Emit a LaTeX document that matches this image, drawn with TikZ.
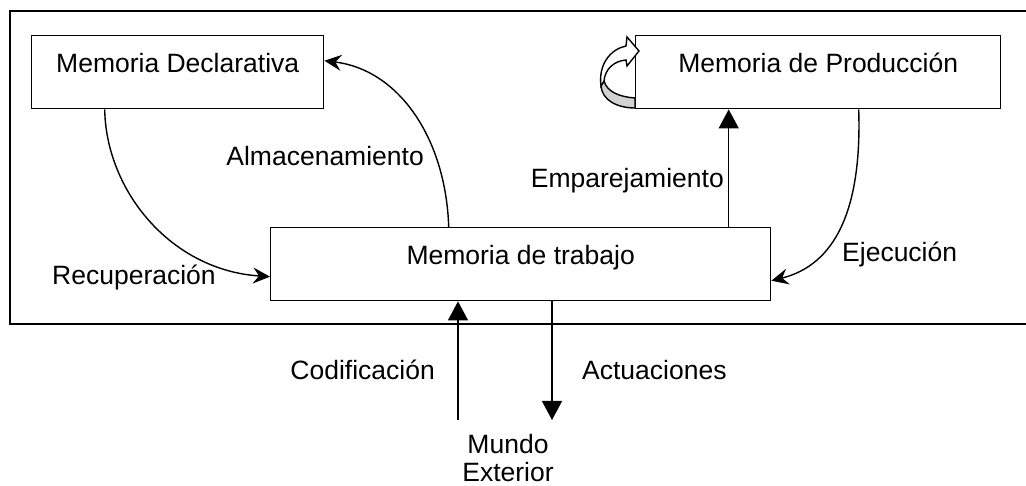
\documentclass[tikz,border=0pt]{standalone}
\usepackage{fontspec}
\setmainfont{Liberation Sans}
\usetikzlibrary{arrows.meta}
\begin{document}
\begin{tikzpicture}[x=1pt,y=-1pt,
  every node/.style={font=\fontsize{26.5}{28}\selectfont, inner sep=0pt},
  membox/.style={draw, line width=1.4pt, text height=37pt, text depth=36pt, anchor=north west},
  curvearrow/.style={line width=1.4pt, -{Stealth[length=17pt,width=16pt,inset=6pt]}},
  straightarrow/.style={line width=1.4pt, -{Triangle[length=19pt,width=20pt]}}]
\useasboundingbox (0,0) rectangle (1026,486);
% outer frame
\draw[line width=1.4pt] (1026,11) -- (10,11) -- (10,324) -- (1026,324);
% boxes
\node[membox, minimum width=292pt] (decl) at (31,35) {Memoria Declarativa};
\node[membox, minimum width=365pt] (prod) at (635,35) {Memoria de Producción};
\node[membox, minimum width=500pt] (wm) at (270,227) {Memoria de trabajo};
% circular icon
\filldraw[fill=gray!35, line width=1.4pt] (604,81) .. controls (607,92) and (620,97) .. (635,98) -- (635,108) .. controls (617,108) and (602,100) .. (601,86) -- cycle;
\filldraw[fill=white, line width=1.4pt] (601,86) .. controls (598,64) and (611,49) .. (626,46) -- (627,37) -- (639,51) -- (627,66) -- (626,60) .. controls (614,61) and (605,69) .. (604,81) -- cycle;
% connectors
\draw[curvearrow] ([xshift=-73pt]decl.south) .. controls (106,190) and (170,270) .. ([yshift=-12.5pt]wm.west);
\draw[curvearrow] ([xshift=-72pt]wm.north) .. controls (446,140) and (400,70) .. ([yshift=11.5pt]decl.east);
\draw[straightarrow] ([xshift=208pt]wm.north) -- ([xshift=208pt]wm.north |- prod.south);
\draw[curvearrow] ([xshift=40.5pt]prod.south) .. controls (862,210) and (835,265) .. ([yshift=-16.5pt]wm.east);
\coordinate (codin) at (458,420);
\coordinate (actout) at (552,420);
\draw[straightarrow] (codin) -- (codin |- wm.south);
\draw[straightarrow] (actout |- wm.south) -- (actout);
% labels
\node[anchor=base east] (lalm) at (424,166) {Almacenamiento};
\node[anchor=base east] (lemp) at (724,188) {Emparejamiento};
\node[anchor=base west] (lrec) at (52,285) {Recuperación};
\node[anchor=base west] (leje) at (842,262) {Ejecución};
\node[anchor=base east] (lcod) at (435,380) {Codificación};
\node[anchor=base west] (lact) at (582,380) {Actuaciones};
\node[anchor=south, align=center] (mundo) at (508,482) {Mundo\\Exterior};
\end{tikzpicture}
\end{document}
